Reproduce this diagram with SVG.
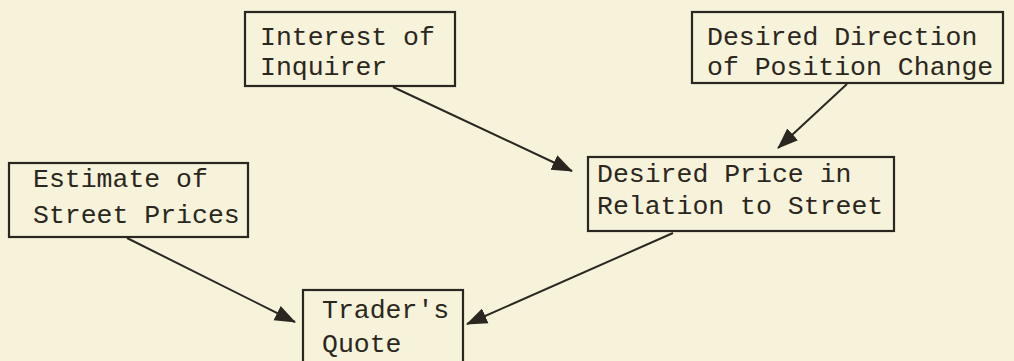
<svg xmlns="http://www.w3.org/2000/svg" width="1014" height="361" viewBox="0 0 1014 361">
<style>
.bg{fill:#f7f2da}
.box{fill:none;stroke:#2b2720;stroke-width:2.2}
.t{font-family:"Liberation Mono","Courier New",monospace;font-size:26.5px;fill:#2b2720}
.c{fill:none;stroke:#2b2720;stroke-width:2}
</style>
<defs>
<marker id="ah" markerUnits="userSpaceOnUse" markerWidth="22" markerHeight="18" viewBox="0 0 22 18" refX="20" refY="9" orient="auto">
<path d="M0,1 L21,9 L0,17 Z" fill="#2b2720"/>
</marker>
</defs>
<rect class="bg" x="0" y="0" width="1014" height="361"/>
<g id="connectors">
<line class="c" x1="393" y1="87" x2="572" y2="171" marker-end="url(#ah)"/>
<line class="c" x1="847" y1="84" x2="778" y2="148" marker-end="url(#ah)"/>
<line class="c" x1="127" y1="238" x2="295" y2="322" marker-end="url(#ah)"/>
<line class="c" x1="673" y1="233" x2="467" y2="324" marker-end="url(#ah)"/>
</g>
<g id="interest">
<rect class="box" x="245" y="12" width="210" height="74"/>
<text class="t" x="260" y="45">Interest of</text>
<text class="t" x="260" y="75">Inquirer</text>
</g>
<g id="direction">
<rect class="box" x="692" y="12" width="311" height="71"/>
<text class="t" x="707" y="45">Desired Direction</text>
<text class="t" x="707" y="75">of Position Change</text>
</g>
<g id="price">
<rect class="box" x="588" y="157" width="306" height="74"/>
<text class="t" x="597" y="182">Desired Price in</text>
<text class="t" x="597" y="214">Relation to Street</text>
</g>
<g id="estimate">
<rect class="box" x="9" y="163" width="239" height="74"/>
<text class="t" x="33" y="187">Estimate of</text>
<text class="t" x="33" y="223">Street Prices</text>
</g>
<g id="quote">
<rect class="box" x="303" y="290" width="160" height="80"/>
<text class="t" x="322" y="318">Trader's</text>
<text class="t" x="322" y="352">Quote</text>
</g>
</svg>
